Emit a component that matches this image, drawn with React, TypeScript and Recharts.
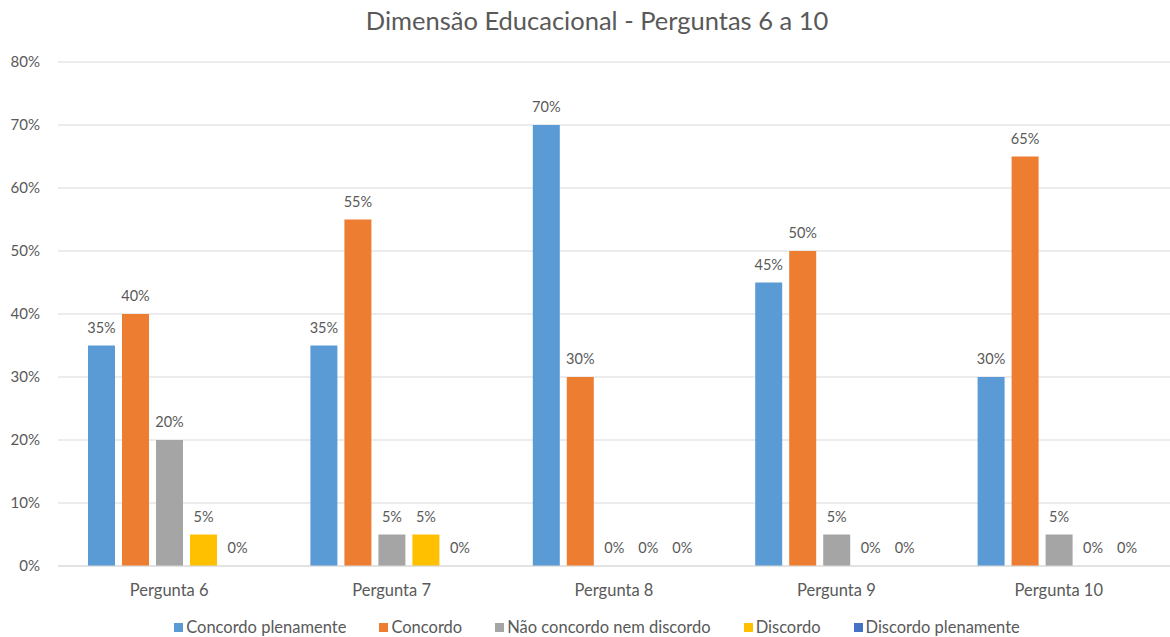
import React from 'react';
import {
  BarChart,
  Bar,
  XAxis,
  YAxis,
  CartesianGrid,
  Legend,
  LabelList,
} from 'recharts';

// Values (percent)
const perguntas = ['Pergunta 6', 'Pergunta 7', 'Pergunta 8', 'Pergunta 9', 'Pergunta 10'];
const concordoPlenamente = [35, 35, 70, 45, 30];
const concordo = [40, 55, 30, 50, 65];
const naoConcordoNemDiscordo = [20, 5, 0, 5, 5];
const discordo = [5, 5, 0, 0, 0];
const discordoPlenamente = [0, 0, 0, 0, 0];
const yTicks = [0, 10, 20, 30, 40, 50, 60, 70, 80];

const series = [
  { key: 'cp', name: 'Concordo plenamente', color: '#5B9BD5' },
  { key: 'c', name: 'Concordo', color: '#ED7D31' },
  { key: 'n', name: 'Não concordo nem discordo', color: '#A5A5A5' },
  { key: 'd', name: 'Discordo', color: '#FFC000' },
  { key: 'dp', name: 'Discordo plenamente', color: '#4472C4' },
];

const data = perguntas.map((name, i) => ({
  name,
  cp: concordoPlenamente[i],
  c: concordo[i],
  n: naoConcordoNemDiscordo[i],
  d: discordo[i],
  dp: discordoPlenamente[i],
}));

const font = 'Lato, "Open Sans", sans-serif';
const textColor = '#595959';

// keep legend in series order (Recharts sorts it otherwise)
const renderLegend = () => (
  <div style={{ display: 'flex', justifyContent: 'center', fontSize: 16.5, fontFamily: font, color: textColor }}>
    {series.map((s) => (
      <div key={s.key} style={{ display: 'flex', alignItems: 'center', margin: '0 16.5px' }}>
        <span style={{ width: 9, height: 9, background: s.color, marginRight: 3, display: 'inline-block' }} />
        <span>{s.name}</span>
      </div>
    ))}
  </div>
);

export default function App() {
  return (
    <div style={{ position: 'relative', width: 1170, height: 637, background: '#fff', fontFamily: font }}>
      <style>{'body { margin: 0; }'}</style>
      <div
        style={{
          position: 'absolute',
          top: 5,
          left: 12,
          width: 1170,
          textAlign: 'center',
          fontSize: 25.5,
          color: textColor,
          fontFamily: font,
        }}
      >
        Dimensão Educacional - Perguntas 6 a 10
      </div>
      <BarChart
        width={1170}
        height={637}
        data={data}
        margin={{ top: 62, right: 0, left: 0, bottom: 0 }}
        barGap={7}
        barCategoryGap={30}
      >
        <CartesianGrid vertical={false} stroke="#d9d9d9" />
        <XAxis
          dataKey="name"
          tickLine={false}
          axisLine={{ stroke: '#d9d9d9' }}
          height={51}
          tickMargin={12}
          tick={{ fill: textColor, fontSize: 16.5, fontFamily: font }}
        />
        <YAxis
          width={58}
          domain={[0, 80]}
          ticks={yTicks}
          tickLine={false}
          axisLine={false}
          tickMargin={12}
          tickFormatter={(v) => `${v}%`}
          tick={{ fill: textColor, fontSize: 15, fontFamily: font }}
        />
        <Legend verticalAlign="bottom" content={renderLegend} wrapperStyle={{ left: 12, height: 20 }} />
        {series.map((s) => (
          <Bar
            key={s.key}
            dataKey={s.key}
            name={s.name}
            fill={s.color}
            minPointSize={0.01}
            isAnimationActive={false}
          >
            <LabelList
              dataKey={s.key}
              position="top"
              offset={13}
              formatter={(v) => `${v}%`}
              style={{ fill: textColor, fontSize: 14.5, fontFamily: font }}
            />
          </Bar>
        ))}
      </BarChart>
    </div>
  );
}
